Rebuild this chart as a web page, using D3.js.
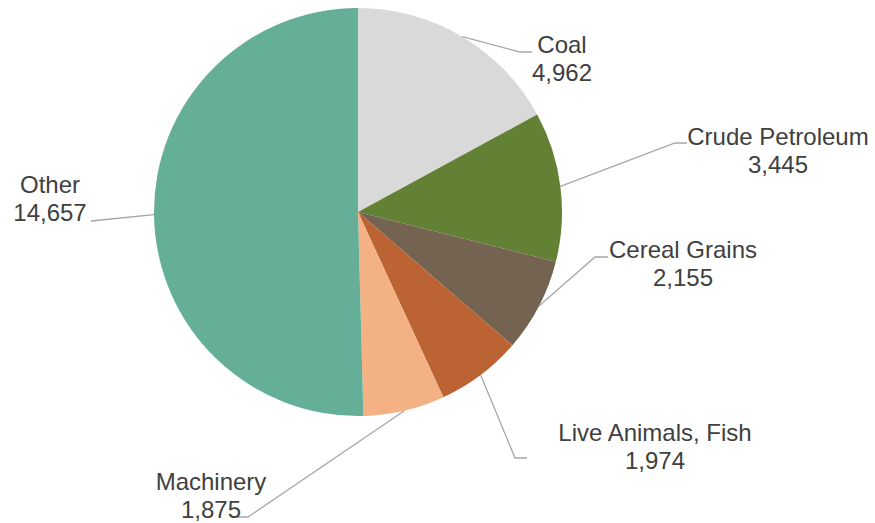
<!DOCTYPE html>
<html>
<head>
<meta charset="utf-8">
<script src="https://cdn.jsdelivr.net/npm/d3@7"></script>
<style>
  html, body { margin: 0; padding: 0; background: #fff; }
  svg text { font-family: "Liberation Sans", Arial, sans-serif; font-size: 24px; fill: #404040; }
</style>
</head>
<body>
<div id="chart"></div>
<script>
(function() {
  var width = 875;
  var height = 523;
  var cx = 358;
  var cy = 212;
  var radius = 204;

  // data
  var categories = ['Coal', 'Crude Petroleum', 'Cereal Grains', 'Live Animals, Fish', 'Machinery', 'Other'];
  var values = [4962, 3445, 2155, 1974, 1875, 14657];
  var colors = ['#d9d9d9', '#638135', '#736350', '#bc6334', '#f4b183', '#65ae98'];

  // label placement (elbow of leader line, end of short tick, text centre and first baseline)
  var elbows = [[520, 52], [675, 143], [595, 257], [515, 458], [248, 517], [106, 219.5]];
  var tickEnds = [[532, 52], [687, 143], [608, 257], [527, 458], [237, 517], [91, 221]];
  var textPos = [[562, 53], [778, 145], [683, 258], [655, 441], [211, 490], [50, 193]];

  var fmt = d3.format(',');

  var svg = d3.select('#chart').append('svg')
    .attr('width', width)
    .attr('height', height);

  var pie = d3.pie().sort(null).value(function(d) { return d; });
  var arc = d3.arc().innerRadius(0).outerRadius(radius);
  var edgeArc = d3.arc().innerRadius(radius).outerRadius(radius);

  var arcs = pie(values);

  var g = svg.append('g').attr('transform', 'translate(' + cx + ',' + cy + ')');

  g.selectAll('.slice')
    .data(arcs)
    .enter().append('path')
    .attr('class', 'slice')
    .attr('d', arc)
    .attr('fill', function(d, i) { return colors[i]; });

  // leader lines from slice edge midpoint
  svg.selectAll('.leader')
    .data(arcs)
    .enter().append('polyline')
    .attr('class', 'leader')
    .attr('fill', 'none')
    .attr('stroke', '#a6a6a6')
    .attr('stroke-width', 1.3)
    .attr('points', function(d, i) {
      var c = edgeArc.centroid(d);
      var start = [c[0] + cx, c[1] + cy];
      return [start, elbows[i], tickEnds[i]].map(function(p) { return p.join(','); }).join(' ');
    });

  var labels = svg.selectAll('.label')
    .data(arcs)
    .enter().append('text')
    .attr('class', 'label')
    .attr('text-anchor', 'middle');

  labels.append('tspan')
    .attr('x', function(d, i) { return textPos[i][0]; })
    .attr('y', function(d, i) { return textPos[i][1]; })
    .text(function(d, i) { return categories[i]; });

  labels.append('tspan')
    .attr('x', function(d, i) { return textPos[i][0]; })
    .attr('y', function(d, i) { return textPos[i][1] + 28; })
    .text(function(d) { return fmt(d.value); });
})();
</script>
</body>
</html>
